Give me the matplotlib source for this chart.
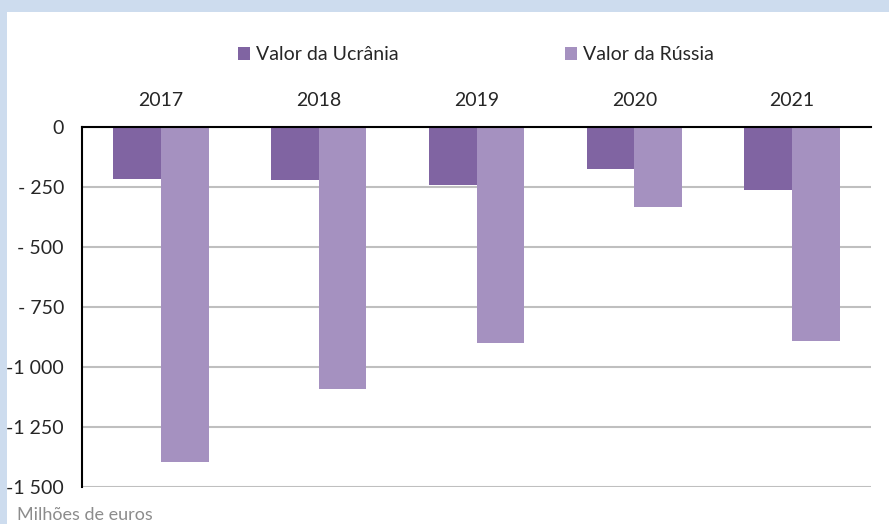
import matplotlib
matplotlib.use("Agg")
import matplotlib.pyplot as plt
from matplotlib.patches import Rectangle
import numpy as np

years = ["2017", "2018", "2019", "2020", "2021"]
ucrania = [-215, -220, -240, -175, -262]
russia = [-1395, -1090, -900, -335, -890]
yticks = [0, -250, -500, -750, -1000, -1250, -1500]
ytick_labels = ["0", "- 250", "- 500", "- 750", "-1 000", "-1 250", "-1 500"]

plt.rcParams['font.family'] = ['Lato', 'DejaVu Sans']

fig = plt.figure(figsize=(8.89, 5.24), dpi=100)
fig.patch.set_facecolor('#cddcee')
fig.patches.append(Rectangle((7 / 889, 0), 1, 1 - 12 / 524, transform=fig.transFigure,
                             facecolor='white', edgecolor='none', zorder=-1))

ax = fig.add_axes([82 / 889, 37 / 524, 789 / 889, 360 / 524])
ax.set_facecolor('none')
ax.set_zorder(2)

x = np.arange(len(years))
w = 0.302
ax.bar(x - w / 2, ucrania, w, color='#8064a2', label='Valor da Ucrânia', zorder=3)
ax.bar(x + w / 2, russia, w, color='#a591c0', label='Valor da Rússia', zorder=3)

ax.set_xlim(-0.5, len(years) - 0.5)
ax.set_ylim(-1500, 0)
ax.set_yticks(yticks)
ax.set_yticklabels(ytick_labels)
ax.set_xticks(x)
ax.set_xticklabels(years)
ax.xaxis.tick_top()
ax.tick_params(axis='x', length=0, pad=13, labelsize=14, colors='#262626')
ax.tick_params(axis='y', length=0, pad=13, labelsize=14, colors='#262626')
for lab in ax.get_yticklabels():
    lab.set_horizontalalignment('right')

ax.yaxis.grid(True, color='#bfbfbf', linewidth=1.5, zorder=1)
ax.set_axisbelow(True)
for s in ['right', 'bottom']:
    ax.spines[s].set_visible(False)
ax.spines['left'].set_color('black')
ax.spines['left'].set_linewidth(1.5)
ax.spines['top'].set_color('black')
ax.spines['top'].set_linewidth(1.5)
ax.spines['top'].set_zorder(4)

leg = ax.legend(loc='center', bbox_to_anchor=(476 / 889, 1 - 55 / 524), bbox_transform=fig.transFigure,
                ncol=2, frameon=False, fontsize=14, handlelength=0.6, handleheight=0.6,
                handletextpad=0.3, columnspacing=8.6)
for t in leg.get_texts():
    t.set_color('#262626')

fig.text(17 / 889, 1 - 515 / 524, 'Milhões de euros', fontsize=13, color='#8c8c8c', va='center', ha='left')

fig.savefig('out.png', dpi=100, facecolor=fig.get_facecolor())
